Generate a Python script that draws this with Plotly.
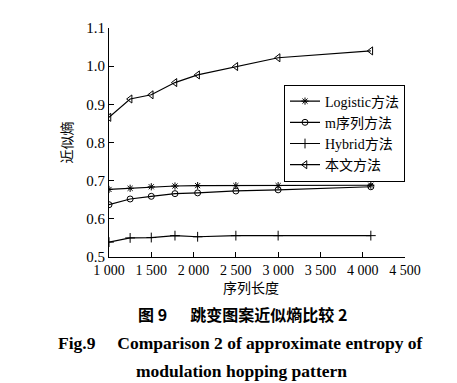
import plotly.graph_objects as go

seq_len = [1000, 1250, 1500, 1780, 2048, 2500, 3000, 4096]
logistic = [0.677, 0.680, 0.684, 0.686, 0.687, 0.687, 0.687, 0.688]
mseq = [0.637, 0.652, 0.659, 0.666, 0.668, 0.673, 0.676, 0.684]
hybrid = [0.539, 0.550, 0.551, 0.556, 0.553, 0.556, 0.556, 0.556]
proposed = [0.866, 0.914, 0.925, 0.957, 0.977, 0.999, 1.022, 1.040]

series_names = ["Logistic方法", "m序列方法", "Hybrid方法", "本文方法"]
series_vals = [logistic, mseq, hybrid, proposed]
symbols = ["asterisk-open", "circle-open", "cross-thin-open", "triangle-left-open"]
sizes = [6, 6, 7, 7]

x_tickvals = [1000, 1500, 2000, 2500, 3000, 3500, 4000, 4500]
x_ticktext = ["1 000", "1 500", "2 000", "2 500", "3 000", "3 500", "4 000", "4 500"]
y_tickvals = [0.5, 0.6, 0.7, 0.8, 0.9, 1.0, 1.1]
y_ticktext = ["0.5", "0.6", "0.7", "0.8", "0.9", "1.0", "1.1"]

SERIF = "Liberation Serif, Noto Sans CJK SC, serif"
CJK = "Noto Sans CJK SC, sans-serif"

fig = go.Figure()
for name, vals, sym, sz in zip(series_names, series_vals, symbols, sizes):
    fig.add_trace(go.Scatter(
        x=seq_len, y=vals, name=name, mode="lines+markers",
        line=dict(color="black", width=1.2),
        marker=dict(symbol=sym, size=sz, color="black",
                    line=dict(color="black", width=1)),
    ))

fig.update_layout(
    width=457, height=383,
    margin=dict(l=101, r=60, t=14, b=134),
    paper_bgcolor="white", plot_bgcolor="white",
    font=dict(family=SERIF, size=14, color="black"),
    showlegend=True,
    legend=dict(
        x=(276 - 101) / 296, y=(249 - 72) / 235, xanchor="left", yanchor="top",
        bordercolor="black", borderwidth=1, bgcolor="white",
        font=dict(family=SERIF, size=14),
        tracegroupgap=0, itemwidth=30,
    ),
    xaxis=dict(
        range=[1000, 4500], tickvals=x_tickvals, ticktext=x_ticktext,
        showline=True, linecolor="black", linewidth=1,
        ticks="inside", ticklen=5, tickcolor="black",
        showgrid=False, zeroline=False,
        tickfont=dict(family=SERIF, size=14),
    ),
    yaxis=dict(
        range=[0.5, 1.1], tickvals=y_tickvals, ticktext=y_ticktext,
        showline=True, linecolor="black", linewidth=1,
        ticks="inside", ticklen=5, tickcolor="black",
        showgrid=False, zeroline=False,
        tickfont=dict(family=SERIF, size=15),
        title=dict(text="近似熵", font=dict(family=CJK, size=14), standoff=10),
    ),
)

fig.add_annotation(text="序列长度", xref="paper", yref="paper",
                   x=(243 - 101) / 296, y=(249 - 280) / 235, xanchor="center", yanchor="middle",
                   showarrow=False, font=dict(family=CJK, size=14))
fig.add_annotation(text="<b>图 9　  跳变图案近似熵比较 2</b>", xref="paper", yref="paper",
                   x=(234 - 101) / 296, y=(249 - 308) / 235, xanchor="center", yanchor="middle",
                   showarrow=False, font=dict(family=CJK, size=16))
fig.add_annotation(text="<b>Fig.9　 Comparison 2 of approximate entropy of</b>", xref="paper", yref="paper",
                   x=(232 - 101) / 296, y=(249 - 337) / 235, xanchor="center", yanchor="middle",
                   showarrow=False, font=dict(family=SERIF, size=17.5))
fig.add_annotation(text="<b>modulation hopping pattern</b>", xref="paper", yref="paper",
                   x=(233 - 101) / 296, y=(249 - 366) / 235, xanchor="center", yanchor="middle",
                   showarrow=False, font=dict(family=SERIF, size=17.5))

fig.write_html("out.html")
